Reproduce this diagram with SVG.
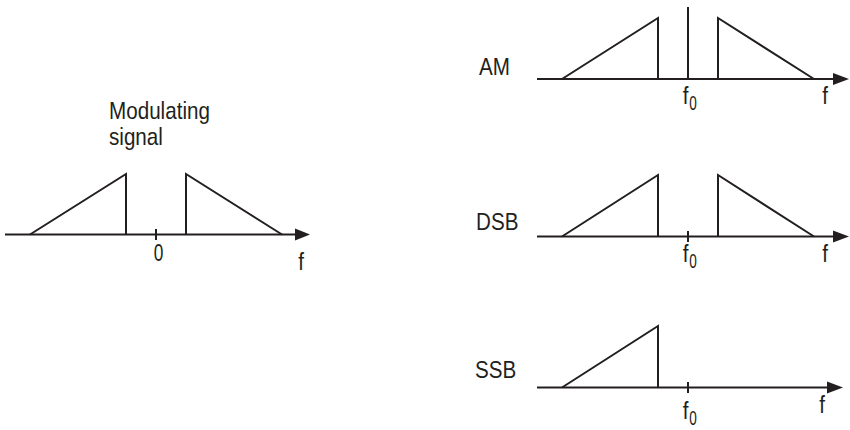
<svg xmlns="http://www.w3.org/2000/svg" width="850" height="430" viewBox="0 0 850 430">
<style>
.ln{fill:none;stroke:#231f20;stroke-width:2;stroke-linejoin:miter}
.ah{fill:#231f20;stroke:none}
.t{font-family:"Liberation Sans",Arial,sans-serif;font-size:24px;fill:#231f20}
.s{font-family:"Liberation Sans",Arial,sans-serif;font-size:20px;fill:#231f20}
.z{font-family:"Liberation Sans",Arial,sans-serif;font-size:24px;fill:#231f20}
</style>
<rect width="850" height="430" fill="#fff"/>
<g id="modulating">
<text class="t" transform="translate(109,119) scale(0.86,1)">Modulating</text>
<text class="t" transform="translate(109,145) scale(0.86,1)">signal</text>
<line class="ln" x1="5" y1="234.5" x2="297" y2="234.5"/>
<polygon class="ah" points="295,228.5 310,234.5 295,240.5"/>
<path class="ln" d="M30,234.5 L126,174 L126,234.5"/>
<path class="ln" d="M186,234.5 L186,174 L282,234.5"/>
<line class="ln" x1="156" y1="229" x2="156" y2="240"/>
<text class="z" transform="translate(158.5,261) scale(0.72,1)" text-anchor="middle">0</text>
<text class="t" transform="translate(301,270) scale(0.86,1)" text-anchor="middle">f</text>
</g>
<g id="am">
<text class="t" transform="translate(479,75) scale(0.86,1)">AM</text>
<line class="ln" x1="537" y1="79" x2="835" y2="79"/>
<polygon class="ah" points="833,73 849,79 833,85"/>
<path class="ln" d="M562,79 L658,18 L658,79"/>
<line class="ln" x1="688" y1="7" x2="688" y2="79"/>
<path class="ln" d="M718,79 L718,18 L814,79"/>
<text class="t" transform="translate(685.5,104) scale(0.86,1)" text-anchor="middle">f</text>
<text class="s" transform="translate(693,110) scale(0.68,1)" text-anchor="middle">0</text>
<text class="t" transform="translate(825,104) scale(0.86,1)" text-anchor="middle">f</text>
</g>
<g id="dsb">
<text class="t" transform="translate(476,230) scale(0.86,1)">DSB</text>
<line class="ln" x1="537" y1="236.5" x2="835" y2="236.5"/>
<polygon class="ah" points="833,230.5 849,236.5 833,242.5"/>
<path class="ln" d="M562,236.5 L658,175 L658,236.5"/>
<path class="ln" d="M718,236.5 L718,175 L814,236.5"/>
<line class="ln" x1="688" y1="231" x2="688" y2="242"/>
<text class="t" transform="translate(685.5,262) scale(0.86,1)" text-anchor="middle">f</text>
<text class="s" transform="translate(693,268) scale(0.68,1)" text-anchor="middle">0</text>
<text class="t" transform="translate(825,262) scale(0.86,1)" text-anchor="middle">f</text>
</g>
<g id="ssb">
<text class="t" transform="translate(475,378) scale(0.86,1)">SSB</text>
<line class="ln" x1="537" y1="387.5" x2="829" y2="387.5"/>
<polygon class="ah" points="827,381.5 843,387.5 827,393.5"/>
<path class="ln" d="M562,387.5 L658,326 L658,387.5"/>
<line class="ln" x1="688" y1="382" x2="688" y2="393"/>
<text class="t" transform="translate(685.5,419) scale(0.86,1)" text-anchor="middle">f</text>
<text class="s" transform="translate(693,425) scale(0.68,1)" text-anchor="middle">0</text>
<text class="t" transform="translate(822,413) scale(0.86,1)" text-anchor="middle">f</text>
</g>
</svg>
